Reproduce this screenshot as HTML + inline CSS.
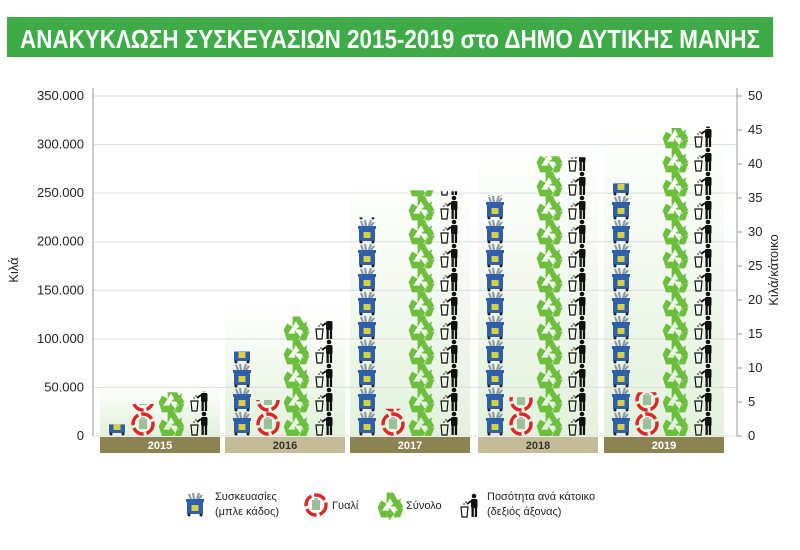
<!DOCTYPE html>
<html><head><meta charset="utf-8">
<style>
html,body{margin:0;padding:0;background:#fff;width:800px;height:550px;overflow:hidden;font-family:"Liberation Sans","DejaVu Sans",sans-serif}
</style></head><body>
<svg id="s" width="800" height="550" xmlns="http://www.w3.org/2000/svg" font-family="Liberation Sans, DejaVu Sans, sans-serif">
<defs>
<linearGradient id="gg" x1="0" y1="0" x2="0" y2="1"><stop offset="0" stop-color="#fff"/><stop offset="1" stop-color="#e3f1dc"/></linearGradient>
<g id="bin">
<path d="M-6,-11 l2,5 M-2,-12 l1,6 M4,-12 l-2,6 M7,-10 l-3,4" stroke="#8a9aa8" stroke-width="2.2"/>
<rect x="-9" y="-6" width="18" height="3" fill="#2f5fa8"/>
<rect x="-8" y="-3" width="16" height="12" fill="#2f5fa8"/>
<rect x="-3.5" y="0" width="7" height="6" fill="#d8d040"/>
<circle cx="-6" cy="10" r="1.5" fill="#222"/><circle cx="6" cy="10" r="1.5" fill="#222"/>
</g>
<g id="glass">
<circle r="10" fill="none" stroke="#d8282a" stroke-width="3.4" stroke-dasharray="12 3"/>
<rect x="-4" y="-5" width="8" height="10" fill="#9bbf9a"/><rect x="-2" y="-7" width="4" height="3" fill="#bbb"/>
</g>
<g id="rec" fill="#6cbf3c" transform="scale(1.12)">
<path d="M-3,-11 l6,0 l4,7 l3,-2 l-2,8 l-8,-1 l3,-2 l-3,-5 l-3,5 z"/>
<path d="M-11,2 l3,-6 l5,3 l-4,6 l6,0 l0,-3 l5,6 l-5,6 l0,-3 l-7,0 z"/>
<path d="M12,2 l-3,-5 l-5,3 l3,5 l-3,0 z M3,11 l6,0 l3,-8 l-6,0 z"/>
</g>
<g id="man">
<circle cx="4" cy="-10" r="2.3" fill="#111"/>
<rect x="1" y="-7" width="6.5" height="9" rx="1.5" fill="#111"/>
<rect x="1.5" y="1" width="2.3" height="10" fill="#111"/><rect x="4.8" y="1" width="2.3" height="10" fill="#111"/>
<path d="M1,-5 l-4,3" stroke="#111" stroke-width="1.8"/>
<path d="M-9,1 l7,0 l-1,10 l-5,0 z" fill="none" stroke="#111" stroke-width="1.2"/>
<circle cx="-6" cy="-2" r="0.8" fill="#111"/><circle cx="-4" cy="-4" r="0.8" fill="#111"/>
</g>
</defs>
<rect x="7" y="17" width="766" height="40" fill="#3eab48"/>
<text x="390" y="48" text-anchor="middle" fill="#fff" font-size="26" font-weight="bold" textLength="740" lengthAdjust="spacingAndGlyphs">ΑΝΑΚΥΚΛΩΣΗ ΣΥΣΚΕΥΑΣΙΩΝ 2015-2019 στο ΔΗΜΟ ΔΥΤΙΚΗΣ ΜΑΝΗΣ</text>
<g id="bg"></g>
<g id="grid" stroke="#ddd" stroke-width="1"></g>
<g id="icons"></g>
<line x1="93" y1="88" x2="93" y2="436" stroke="#999"/>
<line x1="737" y1="88" x2="737" y2="436" stroke="#999"/>
<g id="lab" font-size="13" fill="#222"></g>
<text transform="translate(18,270) rotate(-90)" text-anchor="middle" font-size="13" fill="#222">Κιλά</text>
<text transform="translate(778,270) rotate(-90)" text-anchor="middle" font-size="13" fill="#222">Κιλά/κάτοικο</text>
<g transform="translate(195,505)"><use href="#bin"/></g>
<text x="215" y="500" font-size="11" fill="#222">Συσκευασίες</text>
<text x="215" y="515" font-size="11" fill="#222">(μπλε κάδος)</text>
<g transform="translate(316,505)"><use href="#glass"/></g>
<text x="332" y="509" font-size="11" fill="#222">Γυαλί</text>
<g transform="translate(390,505)"><use href="#rec"/></g>
<text x="406" y="509" font-size="11" fill="#222">Σύνολο</text>
<g transform="translate(470,506)"><use href="#man"/></g>
<text x="487" y="500" font-size="11" fill="#222">Ποσότητα ανά κάτοικο</text>
<text x="487" y="515" font-size="11" fill="#222">(δεξιός άξονας)</text>
</svg>
<script>
(function(){
var NS="http://www.w3.org/2000/svg";
function el(t,a,p){var e=document.createElementNS(NS,t);for(var k in a)e.setAttribute(k,a[k]);if(p)p.appendChild(e);return e;}
var y0=436,yTop=96,sc=(y0-yTop)/350000,sr=(y0-yTop)/50;
var grid=document.getElementById('grid'),lab=document.getElementById('lab');
for(var i=0;i<=7;i++){var y=y0-i*50000*sc;el('line',{x1:93,x2:737,y1:y,y2:y},grid);
var t=el('text',{x:84,y:y+4,'text-anchor':'end'},lab);t.textContent=i==0?'0':(i*50)+'.000';}
for(var j=0;j<=10;j++){var y=y0-j*5*sr;el('line',{x1:737,x2:742,y1:y,y2:y,stroke:'#999'},lab);
var t=el('text',{x:748,y:y+4},lab);t.textContent=j*5;}
var groups=[[100,'2015',12000,33000,45000,6.5,'#8b8452'],[225,'2016',87000,37000,123000,17,'#c4bc98'],[350,'2017',225000,28000,253000,36,'#8b8452'],[478,'2018',248000,40000,288000,41,'#c4bc98'],[604,'2019',260000,45000,317000,45.5,'#8b8452']];
var bg=document.getElementById('bg'),ic=document.getElementById('icons');
groups.forEach(function(g,n){var gx=g[0];
var ty=y0-g[4]*sc-10;
el('rect',{x:gx,y:ty,width:120,height:y0-ty,fill:'url(#gg)'},bg);
el('rect',{x:gx,y:437,width:120,height:16,fill:g[6]},ic);
var t=el('text',{x:gx+60,y:449,'text-anchor':'middle','font-size':11,'font-weight':'bold',fill:n%2?'#333':'#fff'},ic);t.textContent=g[1];
var cols=[[gx+17,g[2]*sc,'bin'],[gx+43,g[3]*sc,'glass'],[gx+71,g[4]*sc,'rec'],[gx+100,g[5]*sr,'man']];
cols.forEach(function(c,k){var cp=el('clipPath',{id:'c'+n+'_'+k},ic);
el('rect',{x:c[0]-14,y:y0-c[1],width:28,height:c[1]},cp);
var gg=el('g',{'clip-path':'url(#c'+n+'_'+k+')'},ic);
for(var y=y0-12;y>y0-c[1]-14;y-=24){el('use',{href:'#'+c[2],transform:'translate('+c[0]+','+y+')'},gg);}
});
});
})();
</script>
</body></html>
